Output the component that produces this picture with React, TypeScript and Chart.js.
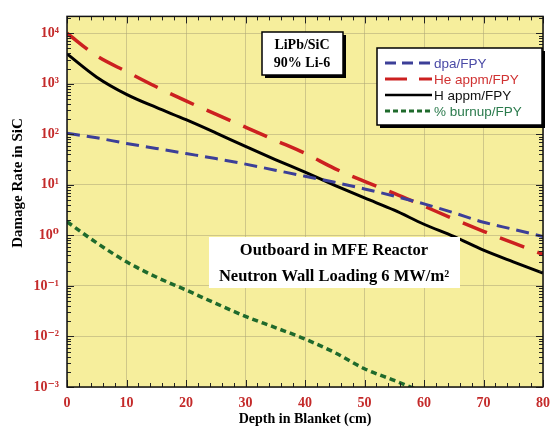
import React, { useEffect, useRef } from "react";
import { Chart, registerables } from "chart.js";

Chart.register(...registerables);

// ---- data ----
const depth = [0, 5, 10, 15, 20, 25, 30, 35, 40, 45, 50, 55, 60, 65, 70, 75, 80];
const dpaFPY = [105, 85, 66, 52.5, 41.7, 33.1, 25.7, 19.5, 14.8, 11.2, 8.3, 6.0, 4.2, 2.8, 1.82, 1.32, 0.95];
const heAppmFPY = [10000, 3550, 1740, 870, 457, 251, 138, 76, 42, 21, 11.7, 6.8, 3.8, 2.1, 1.2, 0.71, 0.42];
const hAppmFPY = [3890, 1350, 617, 339, 195, 107, 57.5, 31.6, 17.8, 9.8, 5.5, 3.16, 1.66, 0.95, 0.51, 0.3, 0.18];
const burnupFPY = [1.86, 0.71, 0.3, 0.15, 0.083, 0.045, 0.025, 0.015, 0.0089, 0.0048, 0.0023, 0.00135, 0.00078];

const seriesNames = ["dpa/FPY", "He appm/FPY", "H appm/FPY", "% burnup/FPY"];
const xTicks = [0, 10, 20, 30, 40, 50, 60, 70, 80];
const yExponents = [-3, -2, -1, 0, 1, 2, 3, 4];
const yTitle = "Damage Rate in SiC";
const xTitle = "Depth in Blanket (cm)";
const boxText1 = ["LiPb/SiC", "90% Li-6"];
const boxText2 = ["Outboard in MFE Reactor", "Neutron Wall Loading 6 MW/m\u00B2"];

const BLUE = "#3c3f98";
const RED = "#cc2020";
const BLACK = "#000000";
const GREEN = "#1f6a2c";
const BG = "#f6ee9c";
const GRID = "rgba(175,168,120,0.55)";
const TICK_RED = "#c42a2a";
const SERIF = "'Liberation Serif', 'DejaVu Serif', serif";
const SANS = "'Liberation Sans', Arial, sans-serif";

const SUP: Record<string, string> = { "0": "\u2070", "1": "\u00B9", "2": "\u00B2", "3": "\u00B3", "4": "\u2074", "-": "\u207B" };
const sup = (n: number) => String(n).split("").map((c) => SUP[c] || c).join("");

const pts = (vals: number[]) => vals.map((v, i) => ({ x: depth[i], y: v }));

function drawBox(ctx: CanvasRenderingContext2D, x: number, y: number, w: number, h: number, shadow: boolean, border: boolean) {
  if (shadow) {
    ctx.fillStyle = "#000";
    ctx.fillRect(x + 3, y + 3, w, h);
  }
  ctx.fillStyle = "#fff";
  ctx.fillRect(x, y, w, h);
  if (border) {
    ctx.strokeStyle = "#000";
    ctx.lineWidth = 1.5;
    ctx.strokeRect(x, y, w, h);
  }
}

const decorPlugin = {
  id: "decor",
  beforeDraw(chart: any) {
    const { ctx, chartArea: a } = chart;
    ctx.save();
    ctx.fillStyle = BG;
    ctx.fillRect(a.left, a.top, a.right - a.left, a.bottom - a.top);
    ctx.restore();
  },
  afterDraw(chart: any) {
    const { ctx, chartArea: a, scales } = chart;
    const xs = scales.x;
    const ys = scales.y;
    ctx.save();
    // inward tick marks
    ctx.strokeStyle = "#222";
    ctx.lineWidth = 1;
    ctx.beginPath();
    for (let e = -3; e <= 4; e++) {
      for (let m = 1; m <= 9; m++) {
        const v = m * Math.pow(10, e);
        if (v > ys.max) continue;
        const py = Math.round(ys.getPixelForValue(v)) + 0.5;
        const len = m === 1 ? 7 : 4;
        ctx.moveTo(a.left, py);
        ctx.lineTo(a.left + len, py);
        ctx.moveTo(a.right, py);
        ctx.lineTo(a.right - len, py);
      }
    }
    for (let v = 0; v <= 80; v += 2) {
      const px = Math.round(xs.getPixelForValue(v)) + 0.5;
      const len = v % 10 === 0 ? 7 : 4;
      ctx.moveTo(px, a.bottom);
      ctx.lineTo(px, a.bottom - len);
      ctx.moveTo(px, a.top);
      ctx.lineTo(px, a.top + len);
    }
    ctx.stroke();
    // frame
    ctx.strokeStyle = "#111";
    ctx.lineWidth = 1.5;
    ctx.strokeRect(a.left, a.top, a.right - a.left, a.bottom - a.top);

    // y axis title
    ctx.save();
    ctx.translate(18, 183);
    ctx.rotate(-Math.PI / 2);
    ctx.fillStyle = "#000";
    ctx.font = `bold 15px ${SERIF}`;
    ctx.textAlign = "center";
    ctx.textBaseline = "middle";
    ctx.fillText(yTitle, 0, 0);
    ctx.restore();

    // annotation box 1
    drawBox(ctx, 262, 32, 81, 43, true, true);
    ctx.fillStyle = "#000";
    ctx.font = `bold 14px ${SERIF}`;
    ctx.textAlign = "center";
    ctx.textBaseline = "middle";
    ctx.fillText(boxText1[0], 302, 45);
    ctx.fillText(boxText1[1], 302, 63);

    // annotation box 2
    drawBox(ctx, 209, 237, 251, 51, false, false);
    ctx.fillStyle = "#000";
    ctx.font = `bold 16.5px ${SERIF}`;
    ctx.fillText(boxText2[0], 334, 251);
    ctx.fillText(boxText2[1], 334, 277);

    // legend
    drawBox(ctx, 377, 48, 165, 77, true, true);
    const rows = [
      { c: BLUE, tc: "#4a4aa6", dash: [11, 6], w: 3 },
      { c: RED, tc: "#d03232", dash: [22, 12], w: 3 },
      { c: BLACK, tc: "#111", dash: [], w: 2.5 },
      { c: GREEN, tc: "#2a7a4c", dash: [5, 3], w: 3 },
    ];
    const rowY = [63, 79, 95, 111];
    ctx.textAlign = "left";
    ctx.font = `13.5px ${SANS}`;
    rows.forEach((r, i) => {
      ctx.strokeStyle = r.c;
      ctx.lineWidth = r.w;
      ctx.setLineDash(r.dash);
      ctx.beginPath();
      ctx.moveTo(385, rowY[i]);
      ctx.lineTo(432, rowY[i]);
      ctx.stroke();
      ctx.setLineDash([]);
      ctx.fillStyle = r.tc;
      ctx.fillText(seriesNames[i], 434, rowY[i] + 1);
    });
    ctx.restore();
  },
};

export default function App() {
  const ref = useRef<HTMLCanvasElement | null>(null);
  useEffect(() => {
    if (!ref.current) return;
    const chart = new Chart(ref.current, {
      type: "line",
      data: {
        datasets: [
          { label: seriesNames[0], data: pts(dpaFPY), borderColor: BLUE, borderWidth: 3, borderDash: [13, 7] },
          { label: seriesNames[1], data: pts(heAppmFPY), borderColor: RED, borderWidth: 3.5, borderDash: [26, 14] },
          { label: seriesNames[2], data: pts(hAppmFPY), borderColor: BLACK, borderWidth: 3 },
          { label: seriesNames[3], data: pts(burnupFPY), borderColor: GREEN, borderWidth: 3.5, borderDash: [6, 4] },
        ] as any,
      },
      options: {
        animation: false,
        responsive: false,
        maintainAspectRatio: false,
        parsing: false as any,
        elements: { point: { radius: 0 }, line: { tension: 0.3, cubicInterpolationMode: "monotone", fill: false } },
        layout: { padding: { top: 5, right: 9, left: 0, bottom: 0 } },
        plugins: { legend: { display: false }, tooltip: { enabled: false } },
        scales: {
          x: {
            type: "linear",
            min: 0,
            max: 80,
            afterBuildTicks: (s: any) => {
              s.ticks = xTicks.map((v) => ({ value: v }));
            },
            afterFit: (s: any) => {
              s.height = 45;
            },
            grid: { color: GRID, lineWidth: 1, drawTicks: false },
            border: { display: false },
            ticks: { color: TICK_RED, padding: 8, font: { family: SERIF, size: 14, weight: "bold" }, maxRotation: 0 },
            title: {
              display: true,
              text: xTitle,
              color: "#000",
              font: { family: SERIF, size: 14, weight: "bold" },
              padding: { top: 0, bottom: 4 },
            },
          },
          y: {
            type: "logarithmic",
            min: 1e-3,
            max: 2.15e4,
            afterBuildTicks: (s: any) => {
              s.ticks = yExponents.map((e) => ({ value: Math.pow(10, e) }));
            },
            afterFit: (s: any) => {
              s.width = 67;
            },
            grid: { color: GRID, lineWidth: 1, drawTicks: false },
            border: { display: false },
            ticks: {
              color: TICK_RED,
              padding: 8,
              font: { family: SERIF, size: 14, weight: "bold" },
              callback: (v: any) => "10" + sup(Math.round(Math.log10(Number(v)))),
            },
          },
        },
      } as any,
      plugins: [decorPlugin],
    });
    return () => chart.destroy();
  }, []);
  return (
    <div style={{ position: "absolute", left: 0, top: 0, width: 558, height: 432, background: "#fff" }}>
      <canvas ref={ref} width={558} height={432} style={{ display: "block", width: 558, height: 432 }} />
    </div>
  );
}
